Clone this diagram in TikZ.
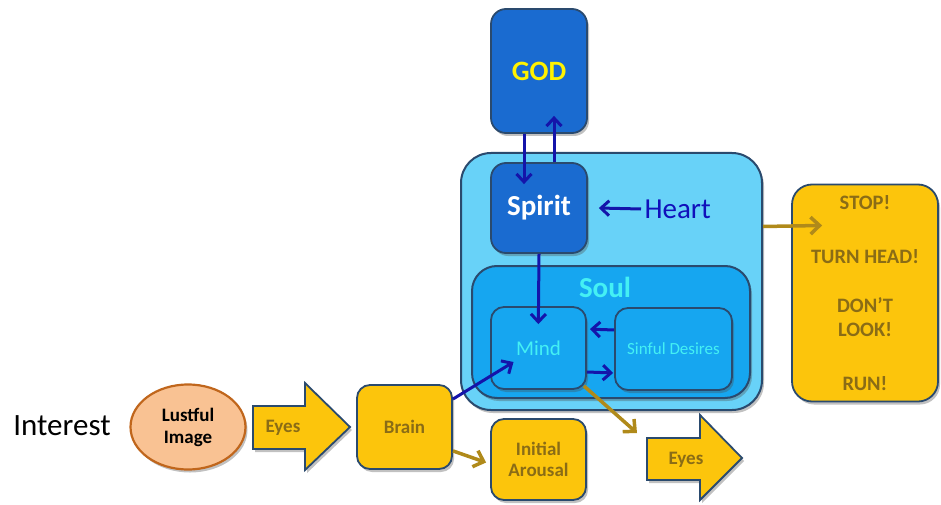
\documentclass[tikz,border=0pt]{standalone}
\usepackage{fontspec}
\setmainfont{Carlito}
\usetikzlibrary{arrows.meta,shadows,calc,shapes.geometric}
\definecolor{dblue}{HTML}{1A6BD0}
\definecolor{lblue}{HTML}{68D2F8}
\definecolor{mblue}{HTML}{16A6F0}
\definecolor{edge}{HTML}{2A4A6E}
\definecolor{gold}{HTML}{FCC50C}
\definecolor{goldtext}{HTML}{8A6C16}
\definecolor{goldarrow}{HTML}{B08A1A}
\definecolor{aqua}{HTML}{44F0F4}
\definecolor{navy}{HTML}{1414AA}
\definecolor{peach}{HTML}{F9C293}
\definecolor{peachedge}{HTML}{C0661C}
\tikzset{
  dshadow/.style={drop shadow={shadow xshift=2pt,shadow yshift=-3pt,opacity=0.35,fill=black!70}},
  darkbox/.style={draw=edge, line width=1.8pt, fill=dblue, rounded corners=15pt, dshadow},
  midbox/.style={draw=edge, line width=1.8pt, fill=mblue, rounded corners=13pt, dshadow},
  goldbox/.style={draw=edge, line width=1.8pt, fill=gold, rounded corners=13pt, dshadow, text=goldtext, font=\bfseries\fontsize{19}{21}\selectfont, align=center},
  goldshape/.style={draw=edge, line width=1.8pt, fill=gold, line join=miter, dshadow},
  blarrow/.style={draw=navy, line width=3pt, -{Straight Barb[length=8pt,width=15pt,line width=3pt]}},
  garrow/.style={draw=goldarrow, line width=3.5pt, -{Straight Barb[length=9pt,width=17pt,line width=3.5pt]}},
}
\begin{document}
\begin{tikzpicture}[x=1pt,y=-1pt]
\useasboundingbox (0,0) rectangle (941,505);

% outer container and soul
\node[draw=edge, line width=2pt, fill=lblue, rounded corners=30pt, dshadow,
      minimum width=301pt, minimum height=257pt] (outer) at (611.5,281.5) {};
\node[draw=edge, line width=2pt, fill=mblue, rounded corners=25pt, dshadow,
      minimum width=278pt, minimum height=132pt] (soul) at (611,332) {};
\node[text=aqua, font=\bfseries\fontsize{29}{31}\selectfont] (soullabel) at (605,287) {Soul};

% blue boxes
\node[darkbox, minimum width=96pt, minimum height=124pt, text=yellow,
      font=\bfseries\fontsize{28}{30}\selectfont] (god) at (539,71) {GOD};
\node[darkbox, minimum width=96pt, minimum height=90pt, text=white,
      font=\bfseries\fontsize{29}{31}\selectfont] (spirit) at (539,208) {Spirit};
\node[text=navy!80!blue, font=\fontsize{29}{31}\selectfont, anchor=west] (heart) at (641,209) {Heart};
\node[midbox, minimum width=95pt, minimum height=82pt, text=aqua,
      font=\fontsize{21}{23}\selectfont] (mind) at (538.5,348) {Mind};
\node[midbox, minimum width=117pt, minimum height=82pt, text=aqua,
      font=\fontsize{17}{20}\selectfont] (sinful) at (673.5,349) {Sinful Desires};

% gold boxes
\node[goldbox, minimum width=95pt, minimum height=84pt] (brain) at (404.5,427) {Brain};
\node[goldbox, minimum width=95pt, minimum height=81pt] (initial) at (538.5,459.5) {Initial\\Arousal};
\node[goldbox, rounded corners=20pt, minimum width=146pt, minimum height=217pt,
      font=\bfseries\fontsize{20.5}{24}\selectfont] (stop) at (865,293)
      {STOP!\\[30pt]TURN HEAD!\\[25pt]DON'T\\LOOK!\\[30pt]RUN!};

% lustful image
\node[ellipse, draw=peachedge, line width=2.2pt, fill=peach, dshadow,
      minimum width=115pt, minimum height=85pt, align=center,
      font=\bfseries\fontsize{19}{22}\selectfont] (lust) at (188,427) {Lustful\\Image};
\node[font=\fontsize{31}{33}\selectfont] (interest) at (62,426) {Interest};

% block arrows "Eyes"
\path[goldshape] (253,406) -- (305,406) -- (305,383) -- (350,427) -- (305,470)
  -- (305,449) -- (253,449) -- cycle;
\node[text=goldtext, font=\bfseries\fontsize{19}{21}\selectfont] (eyes1) at (283,428) {Eyes};
\path[goldshape] (647,438) -- (700,438) -- (700,415) -- (742,458) -- (700,500)
  -- (700,480) -- (647,480) -- cycle;
\node[text=goldtext, font=\bfseries\fontsize{19}{21}\selectfont] (eyes2) at (686,460) {Eyes};
\coordinate (eyes2tip) at (637,433);

% blue connectors
\draw[blarrow, shorten >=-22pt] ([xshift=-15pt]god.south) -- ([xshift=-15pt]spirit.north);
\draw[blarrow, shorten >=-18pt] ([xshift=15pt]spirit.north) -- ([xshift=15pt]god.south);
\draw[blarrow] (heart.west) -- ($(spirit.east)+(11,0)$);
\draw[blarrow, shorten >=-18pt] (spirit.south) -- (mind.north);
\draw[blarrow, shorten >=3pt] ([yshift=19pt]sinful.west) -- ([yshift=19pt]mind.east);
\draw[blarrow, shorten >=1pt] ([yshift=-24pt]mind.east) -- ([yshift=-24pt]sinful.west);
\draw[blarrow] ([yshift=-15pt]brain.north east) -- ($(mind.center)+(-25,14)$);

% gold connectors
\draw[garrow] ($(mind.south east)+(-3,-4)$) -- (eyes2tip);
\draw[garrow] ([yshift=19pt]brain.south east) -- ($(initial.west)+(-4,3)$);
\draw[garrow, shorten >=-31pt] ($(outer.east)+(0,-55)$) -- ($(stop.west)+(0,-67)$);
\end{tikzpicture}
\end{document}
